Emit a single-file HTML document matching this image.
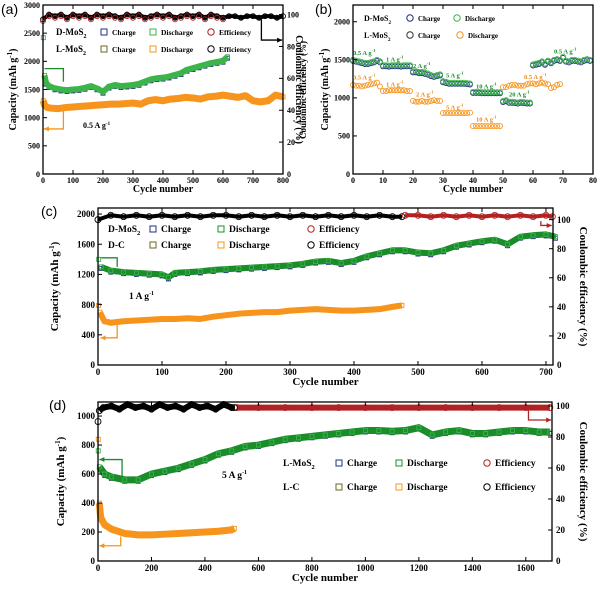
<!DOCTYPE html>
<html><head><meta charset="utf-8"><style>
body{margin:0;background:#fff}
svg{display:block;font-family:"Liberation Serif",serif;font-weight:bold}
.sans{font-family:"Liberation Sans",sans-serif;font-weight:normal}
</style></head><body>
<svg id="fig" width="600" height="592" viewBox="0 0 600 592" xmlns="http://www.w3.org/2000/svg"></svg>
<script>
// ---- data (panel a) ----
const aGreenX=[1,5,10,20,40,60,80,100,120,140,160,180,200,220,240,260,280,300,320,340,360,380,400,420,440,460,480,500,520,540,560,580,600,615];
const aGreenY=[2420,1750,1620,1560,1520,1500,1490,1500,1510,1530,1560,1520,1460,1550,1580,1560,1570,1580,1600,1640,1680,1700,1710,1730,1760,1790,1850,1880,1910,1940,1970,1990,2010,2080];
const aOrangeX=[1,5,15,25,50,75,100,125,150,175,200,225,250,275,300,325,350,375,400,425,450,475,500,525,550,575,600,625,650,675,700,725,750,775,800];
const aOrangeY=[1300,1220,1180,1170,1160,1180,1190,1200,1210,1220,1230,1240,1240,1250,1260,1240,1300,1320,1300,1330,1340,1360,1350,1330,1370,1380,1400,1380,1360,1390,1300,1280,1300,1400,1370];
const aEffX=[0,20,40,60,80,100,120,140,160,180,200,220,240,260,280,300,320,340,360,380,400,420,440,460,480,500,520,540,560,580,600,620,640,660,680,700,720,740,760,780,800];
const aEffY=[97,100,99,100,98,100,99,100,98,100,99,100,99,98,100,99,100,98,99,100,99,100,98,99,100,99,100,98,100,99,98,99,99,98,99,99,98,99,99,98,99];
// ---- data (panel b) ----
const bCycles=Array.from({length:80},(_,i)=>i);
const bD=[1500,1490,1480,1470,1460,1460,1470,1480,1500,1480,1430,1430,1425,1430,1430,1430,1425,1430,1430,1430,1350,1350,1340,1340,1330,1320,1300,1290,1300,1310,1220,1210,1200,1200,1200,1200,1200,1200,1195,1190,1080,1080,1080,1075,1075,1075,1075,1075,1075,1075,960,970,950,950,945,940,950,945,940,940,1440,1450,1460,1480,1450,1490,1470,1500,1510,1500,1540,1490,1480,1500,1500,1490,1480,1500,1510,1500];
const bL=[1170,1160,1160,1150,1160,1170,1180,1190,1200,1150,1090,1090,1100,1100,1100,1100,1100,1100,1090,1090,960,950,950,960,950,950,960,970,960,960,800,800,800,800,800,800,800,800,800,805,630,630,630,630,630,630,630,630,630,630,1140,1140,1160,1170,1170,1160,1160,1160,1180,1190,1190,1180,1190,1200,1190,1180,1130,1140,1170,1180];
const bLabels=[["0.5 A g",0,1560,"#1a8c2a"],["1 A g",11,1480,"#1a8c2a"],["2 A g",20,1390,"#1a8c2a"],["5 A g",31,1270,"#1a8c2a"],["10 A g",41,1120,"#1a8c2a"],["20 A g",52,1020,"#1a8c2a"],["0.5 A g",67,1580,"#1a8c2a"],["0.5 A g",0,1240,"#e8891a"],["1 A g",11,1150,"#e8891a"],["2 A g",21,1020,"#e8891a"],["5 A g",31,850,"#e8891a"],["10 A g",41,690,"#e8891a"],["0.5 A g",57,1250,"#e8891a"]];
// ---- data (panel c) ----
const cGreenX=[1,5,20,40,60,80,100,110,120,140,160,180,200,220,240,260,280,300,320,340,360,380,400,420,440,460,480,500,520,540,560,580,600,620,640,660,680,700,715];
const cGreenY=[1400,1300,1250,1230,1220,1210,1200,1160,1220,1230,1240,1260,1270,1280,1290,1300,1310,1320,1340,1370,1380,1350,1380,1440,1480,1520,1520,1490,1480,1520,1580,1610,1640,1660,1600,1700,1720,1730,1700];
const cOrangeX=[1,3,10,20,40,60,80,100,120,140,160,180,200,220,240,260,280,300,320,340,360,380,400,420,440,460,475];
const cOrangeY=[790,700,580,560,580,590,600,610,610,620,610,640,660,680,690,700,700,720,730,740,730,720,720,730,740,770,790];
const cEffBlackX=[0,20,40,60,80,100,120,140,160,180,200,220,240,260,280,300,320,340,360,380,400,420,440,460,475];
const cEffBlackY=[100,103,102,103,102,103,102,103,102,103,103,102,103,102,103,102,103,102,103,102,103,102,103,102,102];
const cEffRedX=[480,500,520,540,560,580,600,620,640,660,680,700,710];
const cEffRedY=[103,103,102,103,102,103,102,103,102,103,102,103,102];
// ---- data (panel d) ----
const dGreenX=[1,5,25,50,100,150,200,250,300,350,400,450,500,550,600,650,700,750,800,850,900,950,1000,1050,1100,1150,1200,1250,1300,1350,1400,1450,1500,1550,1600,1650,1690];
const dGreenY=[760,650,600,580,560,560,600,620,640,670,700,740,760,790,800,820,840,850,860,870,880,890,900,900,895,900,920,870,890,900,880,880,890,900,900,890,890];
const dOrangeX=[1,5,10,25,50,100,150,200,250,300,350,400,450,500,510];
const dOrangeY=[840,400,300,250,220,190,180,180,185,190,195,200,205,215,225];
const dEffBlackX=[0,5,20,50,80,110,140,170,200,230,260,290,320,350,380,410,440,470,500,510];
const dEffBlackY=[90,97,99,100,98,101,99,100,98,101,99,100,98,101,99,100,98,101,99,99];
const dEffRedX=[520,600,700,800,900,1000,1100,1200,1300,1400,1500,1600,1690];
const dEffRedY=[99,99,99,99,99,99,99,99,99,99,99,99,99];

const NS="http://www.w3.org/2000/svg";
const svg=document.getElementById('fig');
function mk(tag,attrs,parent){const e=document.createElementNS(NS,tag);for(const k in attrs)e.setAttribute(k,attrs[k]);(parent||svg).appendChild(e);return e;}
function txt(s,x,y,size,attrs,parent){const t=mk('text',Object.assign({x:x,y:y,'font-size':size},attrs||{}),parent);t.textContent=s;return t;}
const GREEN="#1a8c2a",GREENL="#3cb44b",ORANGE="#f7941d",RED="#b22222",NAVY="#1f2f7f",OLIVE="#6b6b1a";

function makePanel(p){
  const g=mk('g',{});
  
  
  p.sx=v=>p.x0+(v-p.xmin)/(p.xmax-p.xmin)*(p.x1-p.x0);
  p.sy=v=>p.y1-(v-p.ymin)/(p.ymax-p.ymin)*(p.y1-p.y0);
  p.sr=v=>p.y1-v/p.rmax*(p.y1-p.y0);
  p.g=g;return p;
}
function axes(p){
  const g=p.g;
  const fr=mk('rect',{x:p.x0,y:p.y0,width:p.x1-p.x0,height:p.y1-p.y0,fill:'none',stroke:'#000','stroke-width':1.3},g);
  
  for(const v of p.xt){const x=p.sx(v);mk('line',{x1:x,x2:x,y1:p.y1,y2:p.y1-4,stroke:'#000'},g);mk('line',{x1:x,x2:x,y1:p.y0,y2:p.y0+4,stroke:'#000'},g);
    const t=txt(v,x,p.y1+p.fs+1,p.fs,{'text-anchor':'middle'},g);}
  for(const v of p.yt){const y=p.sy(v);mk('line',{x1:p.x0,x2:p.x0+4,y1:y,y2:y,stroke:'#000'},g);
    const t=txt(v,p.x0-3,y+p.fs*0.35,p.fs,{'text-anchor':'end'},g);}
  if(p.rt)for(const v of p.rt){const y=p.sr(v);mk('line',{x1:p.x1,x2:p.x1-4,y1:y,y2:y,stroke:'#000'},g);
    const t=txt(v,p.x1+4,y+p.fs*0.35,p.fs,{},g);}
  const xl=txt('Cycle number',(p.x0+p.x1)/2,p.y1+p.fs*2+2,p.fs+2,{'text-anchor':'middle'},g);
  
  const yl=txt('',0,0,p.fs+2,{'text-anchor':'middle',transform:`translate(${p.ylx},${(p.y0+p.y1)/2}) rotate(-90)`},g);
  yl.innerHTML='Capacity (mAh g<tspan dy="-4" font-size="7">-1</tspan><tspan dy="4">)</tspan>';
  
  if(p.rt){const rl=txt('Coulombic efficiency (%)',0,0,p.fs+2,{'text-anchor':'middle',transform:`translate(${p.rlx},${(p.y0+p.y1)/2}) rotate(90)`},g);
    }
}
function series(p,xs,ys,color,name,opts){
  opts=opts||{};
  const g=mk('g',{},p.g);
  
  const f=opts.right?p.sr:p.sy;
  const b0=opts.bandStart||0;
  if(opts.band){mk('polyline',{points:xs.slice(b0).map((x,i)=>p.sx(x)+','+f(ys[i+b0])).join(' '),fill:'none',stroke:color,'stroke-width':opts.band,'stroke-linejoin':'round'},g);}
  const s=opts.size||4;
  xs.forEach((x,i)=>{
    let m;
    if(opts.circle)m=mk('circle',{cx:p.sx(x),cy:f(ys[i]),r:s/2,fill:'none',stroke:opts.edge||color,'stroke-width':0.9},g);
    else m=mk('rect',{x:p.sx(x)-s/2,y:f(ys[i])-s/2,width:s,height:s,fill:opts.fill||'none',stroke:opts.edge||color,'stroke-width':0.9},g);
    
  });
}
function poly(p,pts,color,arrowDir){
  const g=p.g;
  mk('polyline',{points:pts.map(q=>q.join(',')).join(' '),fill:'none',stroke:color,'stroke-width':1.3},g);
  const e=pts[pts.length-1];
  if(arrowDir==='l')mk('polygon',{points:`${e[0]},${e[1]} ${e[0]+5},${e[1]-2.5} ${e[0]+5},${e[1]+2.5}`,fill:color},g);
  if(arrowDir==='r')mk('polygon',{points:`${e[0]},${e[1]} ${e[0]-5},${e[1]-2.5} ${e[0]-5},${e[1]+2.5}`,fill:color},g);
}
function leg(p,x,y,marker,color,label,size){
  const g=p.g;
  if(marker==='s')mk('rect',{x:x,y:y-6,width:6,height:6,fill:'none',stroke:color,'stroke-width':1},g);
  else mk('circle',{cx:x+3,cy:y-3,r:3.2,fill:'none',stroke:color,'stroke-width':1},g);
  const t=txt(label,x+11,y,size,{},g);
}
function sub(p,x,y,base,size){const t=txt('',x,y,size,{},p.g);t.innerHTML=base+'<tspan dy="3" font-size="'+(size-3)+'">2</tspan>';}
function plabel(s,x,y){const t=txt(s,x,y,14,{class:'sans'});}

// ===== Panel a =====
const A=makePanel({name:'panel-a',x0:43,x1:283,y0:5,y1:174,xmin:0,xmax:800,ymin:0,ymax:3000,rmax:106,xt:[0,100,200,300,400,500,600,700,800],yt:[0,500,1000,1500,2000,2500,3000],rt:[0,20,40,60,80,100],fs:8,ylx:16,rlx:296});
series(A,aEffX,aEffY,'#000','a-efficiency',{circle:true,right:true,size:5,band:4});
series(A,aEffX.slice(0,31),aEffY.slice(0,31).map(v=>v-1),RED,'a-d-efficiency',{circle:true,right:true,size:5});
series(A,aGreenX.slice(2),aGreenY.slice(2).map(v=>v-25),NAVY,'a-d-charge',{band:3,size:4});
series(A,aGreenX,aGreenY,GREENL,'a-d-discharge',{band:6,bandStart:1,edge:GREENL,size:4});
series(A,aOrangeX,aOrangeY,ORANGE,'a-l-discharge',{band:7,size:4});
axes(A);
poly(A,[[A.sx(5),A.sy(1870)],[A.sx(68),A.sy(1870)],[A.sx(68),A.sy(1640)]],GREEN);
poly(A,[[A.sx(68),A.sy(1130)],[A.sx(68),A.sy(800)],[A.sx(3),A.sy(800)]],ORANGE,'l');
poly(A,[[A.sx(728),A.sr(97)],[A.sx(728),A.sr(84)],[A.sx(797),A.sr(84)]],'#000','r');
sub(A,56,35,'D-MoS',9);sub(A,56,52,'L-MoS',9);
leg(A,101,35,'s',NAVY,'Charge',7.5);leg(A,150,35,'s',GREENL,'Discharge',7.5);leg(A,208,35,'c',RED,'Efficiency',7.5);
leg(A,101,52,'s',OLIVE,'Charge',7.5);leg(A,150,52,'s',ORANGE,'Discharge',7.5);leg(A,208,52,'c','#000','Efficiency',7.5);
{const t=txt('',83,128,8,{},A.g);t.innerHTML='0.5 A g<tspan dy="-3" font-size="5">-1</tspan>';}
plabel('(a)',1,14);

// ===== Panel b =====
const B=makePanel({name:'panel-b',x0:353,x1:593,y0:5,y1:174,xmin:0,xmax:80,ymin:0,ymax:2220,xt:[0,10,20,30,40,50,60,70,80],yt:[0,500,1000,1500,2000],fs:8,ylx:328});
series(B,bCycles,bD.map(v=>v-15),NAVY,'b-d-charge',{circle:true,size:5});
series(B,bCycles,bD,GREENL,'b-d-discharge',{circle:true,size:5});
series(B,bCycles.slice(0,70),bL,ORANGE,'b-l-discharge',{circle:true,size:5});
axes(B);
{const t=txt('Coulombic efficiency (%)',0,0,9,{'text-anchor':'middle',transform:'translate(306,90) rotate(-90)'},B.g);}
bLabels.forEach(l=>{const t=txt('',B.sx(l[1]),B.sy(l[2]),6.5,{fill:l[3]},B.g);t.innerHTML=l[0]+'<tspan dy="-3" font-size="4.5">-1</tspan>';});
sub(B,364,21,'D-MoS',8);sub(B,364,38,'L-MoS',8);
leg(B,407,21,'c',NAVY,'Charge',7);leg(B,454,21,'c',GREENL,'Discharge',7);
leg(B,407,38,'c','#333','Charge',7);leg(B,457,38,'c',ORANGE,'Discharge',7);
plabel('(b)',315,14);

// ===== Panel c =====
const C=makePanel({name:'panel-c',x0:98,x1:553,y0:208,y1:365,xmin:0,xmax:711,ymin:0,ymax:2080,rmax:108,xt:[0,100,200,300,400,500,600,700],yt:[0,400,800,1200,1600,2000],rt:[0,20,40,60,80,100],fs:9,ylx:58,rlx:580});
series(C,cEffRedX,cEffRedY,RED,'c-d-efficiency',{circle:true,right:true,size:6,band:4});
series(C,cEffBlackX,cEffBlackY,'#000','c-c-efficiency',{circle:true,right:true,size:6,band:4});
series(C,cGreenX.slice(1),cGreenY.slice(1).map(v=>v-20),NAVY,'c-d-charge',{band:3});
series(C,cGreenX,cGreenY,GREEN,'c-d-discharge',{band:6,bandStart:1,edge:GREENL});
series(C,cOrangeX,cOrangeY,ORANGE,'c-c-discharge',{band:6,bandStart:1});
axes(C);
poly(C,[[C.sx(5),C.sy(1420)],[C.sx(30),C.sy(1420)],[C.sx(30),C.sy(1300)]],GREEN);
poly(C,[[C.sx(30),C.sy(560)],[C.sx(30),C.sy(360)],[C.sx(4),C.sy(360)]],ORANGE,'l');
poly(C,[[C.sx(692),C.sr(99)],[C.sx(692),C.sr(96)],[C.sx(709),C.sr(96)]],RED,'r');
sub(C,108,232,'D-MoS',9.5);
{const t=txt('D-C',108,248,9.5,{},C.g);}
leg(C,150,232,'s',NAVY,'Charge',9.5);leg(C,218,232,'s',GREEN,'Discharge',9.5);leg(C,308,232,'c',RED,'Efficiency',9.5);
leg(C,150,248,'s',OLIVE,'Charge',9.5);leg(C,218,248,'s',ORANGE,'Discharge',9.5);leg(C,308,248,'c','#000','Efficiency',9.5);
{const t=txt('',129,299,9.5,{},C.g);t.innerHTML='1 A g<tspan dy="-4" font-size="6">-1</tspan>';}
plabel('(c)',41,216);

// ===== Panel d =====
const D=makePanel({name:'panel-d',x0:98,x1:552,y0:402,y1:561,xmin:0,xmax:1698,ymin:0,ymax:1097,rmax:102.6,xt:[0,200,400,600,800,1000,1200,1400,1600],yt:[0,200,400,600,800,1000],rt:[0,20,40,60,80,100],fs:9,ylx:64,rlx:580});
series(D,dEffRedX,dEffRedY,RED,'d-l-efficiency',{circle:true,right:true,size:6,band:6});
series(D,dEffBlackX,dEffBlackY,'#000','d-c-efficiency',{circle:true,right:true,size:6,band:6,bandStart:1});
series(D,dGreenX.slice(2),dGreenY.slice(2).map(v=>v-10),NAVY,'d-l-charge',{band:3});
series(D,dGreenX,dGreenY,GREEN,'d-l-discharge',{band:7,bandStart:1,edge:GREENL});
series(D,dOrangeX,dOrangeY,ORANGE,'d-c-discharge',{band:7,bandStart:1});
axes(D);
poly(D,[[D.sx(90),D.sy(570)],[D.sx(90),D.sy(700)],[D.sx(5),D.sy(700)]],GREEN,'l');
poly(D,[[D.sx(85),D.sy(170)],[D.sx(85),D.sy(105)],[D.sx(5),D.sy(105)]],ORANGE,'l');
poly(D,[[D.sx(1610),D.sr(97)],[D.sx(1610),D.sr(91)],[D.sx(1695),D.sr(91)]],RED,'r');
sub(D,283,466,'L-MoS',9.5);
{const t=txt('L-C',283,490,9.5,{},D.g);}
leg(D,336,466,'s',NAVY,'Charge',9.5);leg(D,396,466,'s',GREEN,'Discharge',9.5);leg(D,484,466,'c',RED,'Efficiency',9.5);
leg(D,336,490,'s',OLIVE,'Charge',9.5);leg(D,396,490,'s',ORANGE,' Discharge',9.5);leg(D,484,490,'c','#000','Efficiency',9.5);
{const t=txt('',222,478,9.5,{},D.g);t.innerHTML='5 A g<tspan dy="-4" font-size="6">-1</tspan>';}
plabel('(d)',49,410);
</script>
</body></html>
